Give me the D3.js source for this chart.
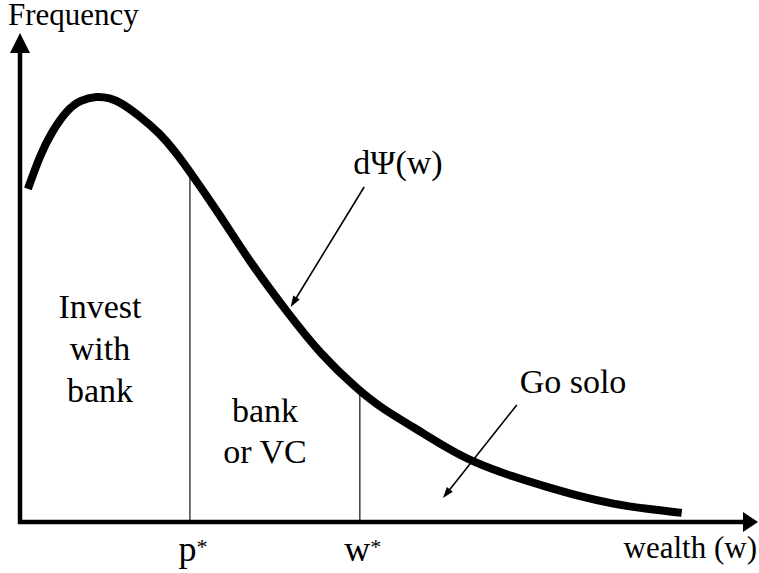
<!DOCTYPE html>
<html>
<head>
<meta charset="utf-8">
<script src="https://cdn.jsdelivr.net/npm/d3@7"></script>
<style>
  html, body { margin: 0; padding: 0; background: #fff; }
  svg { display: block; }
</style>
</head>
<body>
<svg id="chart" width="759" height="573"></svg>
<script>
// ---- data (wealth in arbitrary units, frequency density) ----
const wealth = [0.11, 0.28, 0.44, 0.65, 0.83, 1.07, 1.25, 1.39, 1.67, 1.94, 2.15, 2.36, 2.78, 3.19, 3.72, 4.17, 4.68, 5.04, 5.46, 5.93, 6.29, 6.85, 7.32, 7.78, 8.24, 8.71, 9.19];
const frequency = [0.694, 0.765, 0.8125, 0.858, 0.879, 0.8875, 0.883, 0.875, 0.845, 0.810, 0.773, 0.730, 0.639, 0.542, 0.435, 0.350, 0.277, 0.235, 0.198, 0.154, 0.125, 0.094, 0.073, 0.053, 0.0375, 0.027, 0.019];
const thresholds = [2.36, 4.72];
const thresholdLabels = ["p", "w"];
const regionLabels = [["Invest", "with", "bank"], ["bank", "or VC"], ["Go solo"]];
const curveLabel = "dΨ(w)";
const xAxisLabel = "wealth (w)";
const yAxisLabel = "Frequency";

const FONT = "'Liberation Serif', 'Times New Roman'";
const svg = d3.select("#chart");
const x = d3.scaleLinear().domain([0, 10]).range([20, 740]);
const y = d3.scaleLinear().domain([0, 1]).range([522, 42]);

const pts = wealth.map((w, i) => [w, frequency[i]]);
function fAt(w) {
  for (let i = 0; i < pts.length - 1; i++) {
    if (w >= pts[i][0] && w <= pts[i + 1][0]) {
      const t = (w - pts[i][0]) / (pts[i + 1][0] - pts[i][0]);
      return pts[i][1] + t * (pts[i + 1][1] - pts[i][1]);
    }
  }
  return 0;
}

// threshold vertical lines
svg.selectAll("line.thr").data(thresholds).enter().append("line")
  .attr("class", "thr")
  .attr("x1", d => x(d)).attr("x2", d => x(d))
  .attr("y1", d => y(fAt(d))).attr("y2", y(0))
  .attr("stroke", "#222").attr("stroke-width", 1.3);

// curve
const line = d3.line().x(d => x(d[0])).y(d => y(d[1])).curve(d3.curveBasis);
svg.append("path").datum(pts).attr("d", line)
  .attr("fill", "none").attr("stroke", "#000").attr("stroke-width", 8).attr("stroke-linecap", "butt");

// axes
const x0 = x(0), y0 = y(0);
svg.append("line").attr("x1", x0).attr("x2", x0).attr("y1", y0 + 2).attr("y2", 50)
  .attr("stroke", "#000").attr("stroke-width", 4.5);
svg.append("path").attr("d", `M${x0},33 L${x0 - 10},53 L${x0 + 10},53 Z`).attr("fill", "#000");
svg.append("line").attr("x1", x0 - 2).attr("x2", 746).attr("y1", y0).attr("y2", y0)
  .attr("stroke", "#000").attr("stroke-width", 4.5);
svg.append("path").attr("d", `M758,${y0} L743,${y0 - 10} L743,${y0 + 10} Z`).attr("fill", "#000");

// annotation arrows
function arrow(xa, ya, xb, yb) {
  const x1 = x(xa), y1 = y(ya), x2 = x(xb), y2 = y(yb);
  const ang = Math.atan2(y2 - y1, x2 - x1);
  const L = 11, W = 3.8;
  const bx = x2 - L * Math.cos(ang), by = y2 - L * Math.sin(ang);
  svg.append("line").attr("x1", x1).attr("y1", y1).attr("x2", bx + 2 * Math.cos(ang)).attr("y2", by + 2 * Math.sin(ang))
    .attr("stroke", "#000").attr("stroke-width", 1.6);
  const px = -Math.sin(ang) * W, py = Math.cos(ang) * W;
  svg.append("path").attr("d", `M${x2},${y2} L${bx + px},${by + py} L${bx - px},${by - py} Z`).attr("fill", "#000");
}
arrow(4.78, 0.698, 3.76, 0.448);
arrow(6.90, 0.244, 5.875, 0.05);

// texts
function txt(xp, yp, size, anchor) {
  return svg.append("text").attr("x", xp).attr("y", yp)
    .attr("font-family", FONT).attr("font-size", size).attr("text-anchor", anchor).attr("fill", "#000");
}
txt(8, 25, 31, "start").text(yAxisLabel);
txt(757, 558, 31, "end").text(xAxisLabel);
txt(398, 174, 34, "middle").text(curveLabel);

const lab1 = txt(100, 318, 34, "middle");
regionLabels[0].forEach((t, i) => lab1.append("tspan").attr("x", 100).attr("y", 318 + i * 42).text(t));
const lab2 = txt(265, 422, 34, "middle");
regionLabels[1].forEach((t, i) => lab2.append("tspan").attr("x", 265).attr("y", 422 + i * 41).text(t));
txt(573, 393, 34, "middle").text(regionLabels[2][0]);

thresholds.forEach((d, i) => {
  const t = txt(x(d) + 3, 561, 36, "middle");
  t.append("tspan").text(thresholdLabels[i]);
  t.append("tspan").attr("font-size", 22).attr("dy", -7).text("*");
});
</script>
</body>
</html>
